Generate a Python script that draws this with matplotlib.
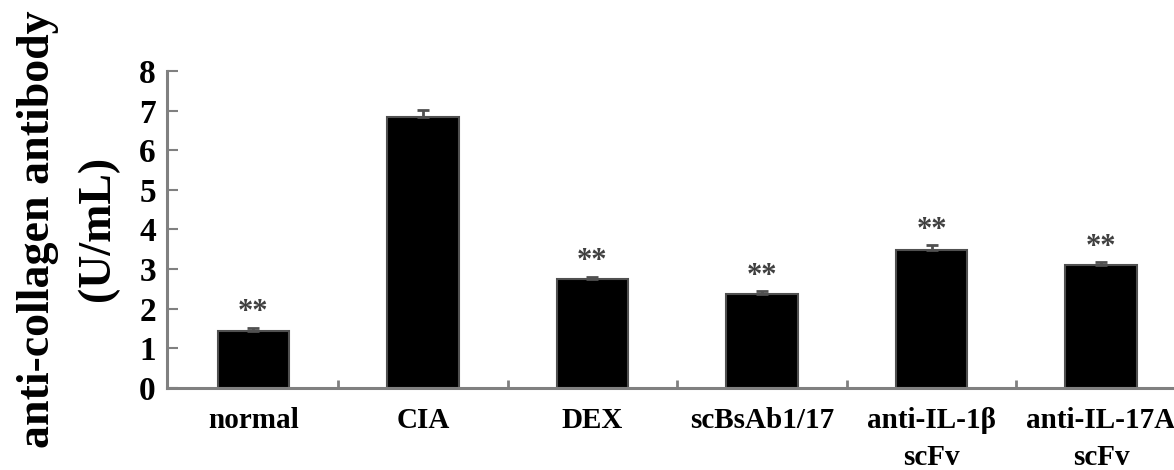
import matplotlib.pyplot as plt
import numpy as np

plt.rcParams['font.family'] = ['Liberation Serif', 'DejaVu Serif']
plt.rcParams['font.weight'] = 'bold'

############################################
# Data
groups = ['normal', 'CIA', 'DEX', 'scBsAb1/17', 'anti-IL-1β\nscFv', 'anti-IL-17A\nscFv']
titer = [1.44, 6.84, 2.75, 2.37, 3.48, 3.10]
titer_err = [0.07, 0.18, 0.06, 0.07, 0.12, 0.07]
stars = ['**', '', '**', '**', '**', '**']
yticks = [0, 1, 2, 3, 4, 5, 6, 7, 8]
############################################

axis_grey = '#808080'

fig = plt.figure(figsize=(11.74, 4.70), dpi=100)
ax = fig.add_axes([0.1422, 0.1745, 0.8578, 0.6745])

x = np.arange(len(groups))
ax.bar(x, titer, width=0.42, color='black', edgecolor='#505050', linewidth=1.5, zorder=2)
ax.errorbar(x, titer, yerr=[np.zeros(len(titer)), titer_err], fmt='none',
            ecolor='#505050', elinewidth=2, capsize=4.5, capthick=2, zorder=3)

for i in range(len(groups)):
  if stars[i]:
    ax.annotate(stars[i], xy=(x[i], titer[i] + titer_err[i]), xytext=(0, 11),
                textcoords='offset points', ha='center', va='center',
                fontsize=22, color='#404040')

ax.set_xlim(-0.51, 5.43)
ax.set_ylim(0, 8)

ax.spines['top'].set_visible(False)
ax.spines['right'].set_visible(False)
for s in ['left', 'bottom']:
  ax.spines[s].set_color(axis_grey)
  ax.spines[s].set_linewidth(2.2)

ax.set_yticks(yticks)
ax.set_yticklabels([str(v) for v in yticks], fontsize=24, fontweight='bold')
ax.tick_params(axis='y', direction='in', length=8, width=1.5, color=axis_grey, pad=8)

ax.set_xticks(x)
ax.set_xticklabels(groups, fontsize=21, fontweight='bold', linespacing=1.45)
ax.tick_params(axis='x', which='major', length=0, pad=14)
ax.set_xticks(x[:-1] + 0.5, minor=True)
ax.tick_params(axis='x', which='minor', direction='in', length=6, width=2, color=axis_grey)

fig.text(0.032, 0.513, 'anti-collagen antibody', rotation=90, ha='center', va='center',
         fontsize=33, fontweight='bold')
fig.text(0.083, 0.513, '(U/mL)', rotation=90, ha='center', va='center',
         fontsize=33, fontweight='bold')

plt.savefig('out.png', dpi=100)
